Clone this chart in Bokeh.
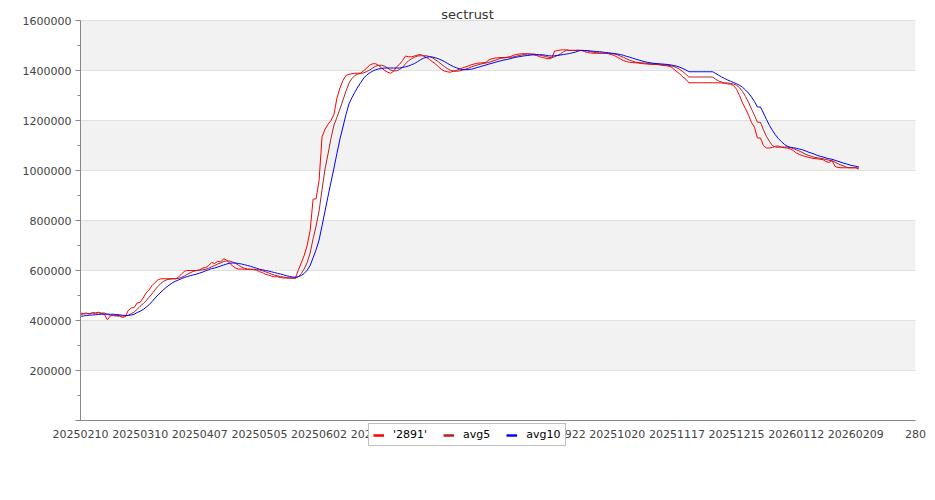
from bokeh.plotting import figure
from bokeh.models import (Range1d, FixedTicker, NumeralTickFormatter, Legend, LegendItem,
                          BoxAnnotation, Label)
from bokeh.embed import file_html
from bokeh.resources import INLINE

title_text = "sectrust"
series_names = ["'2891'", "avg5", "avg10"]
tick_labels = ["20250210", "20250310", "20250407", "20250505", "20250602", "20250630",
               "20250728", "20250825", "20250922", "20251020", "20251117", "20251215",
               "20260112", "20260209", "280"]

raw = [
    430000, 428000, 430000, 425000, 432000, 430000, 433000, 428000, 425000, 403000,
    418000, 422000, 420000, 420000, 412000, 415000, 440000, 450000, 452000, 470000,
    473000, 490000, 510000, 522000, 540000, 552000, 563000, 567000, 567000, 567000,
    567000, 567000, 567000, 575000, 588000, 598000, 600000, 600000, 600000, 600000,
    603000, 610000, 612000, 620000, 632000, 628000, 637000, 634000, 647000, 642000,
    630000, 618000, 610000, 605000, 606000, 605000, 604000, 605000, 603000, 602000,
    595000, 592000, 585000, 582000, 578000, 575000, 575000, 572000, 570000, 570000,
    569000, 569000, 569000, 600000, 630000, 660000, 700000, 760000, 885000, 887000,
    960000, 1135000, 1165000, 1185000, 1200000, 1225000, 1290000, 1330000, 1360000, 1380000,
    1385000, 1387000, 1389000, 1389000, 1390000, 1400000, 1410000, 1422000, 1427000, 1427000,
    1420000, 1410000, 1400000, 1393000, 1389000, 1397000, 1415000, 1425000, 1440000, 1458000,
    1455000, 1455000, 1458000, 1462000, 1464000, 1458000, 1452000, 1445000, 1435000, 1427000,
    1415000, 1405000, 1398000, 1395000, 1393000, 1397000, 1400000, 1405000, 1410000, 1414000,
    1418000, 1423000, 1426000, 1429000, 1430000, 1431000, 1433000, 1443000, 1447000, 1450000,
    1451000, 1452000, 1452000, 1453000, 1455000, 1460000, 1464000, 1466000, 1467000, 1467000,
    1467000, 1465000, 1463000, 1460000, 1455000, 1452000, 1449000, 1447000, 1450000, 1478000,
    1480000, 1482000, 1483000, 1482000, 1480000, 1480000, 1480000, 1481000, 1480000, 1476000,
    1472000, 1470000, 1469000, 1469000, 1469000, 1469000, 1469000, 1467000, 1464000, 1460000,
    1453000, 1447000, 1440000, 1436000, 1433000, 1432000, 1431000, 1430000, 1428000, 1427000,
    1426000, 1425000, 1424000, 1424000, 1423000, 1421000, 1420000, 1418000, 1415000, 1405000,
    1395000, 1386000, 1374000, 1365000, 1351000, 1351000, 1351000, 1351000, 1351000, 1351000,
    1351000, 1351000, 1351000, 1351000, 1351000, 1350000, 1349000, 1347000, 1345000, 1340000,
    1325000, 1300000, 1270000, 1247000, 1222000, 1192000, 1173000, 1130000, 1130000, 1100000,
    1090000, 1090000, 1092000, 1097000, 1098000, 1093000, 1091000, 1090000, 1086000, 1080000,
    1070000, 1064000, 1060000, 1056000, 1053000, 1050000, 1048000, 1047000, 1045000, 1043000,
    1036000, 1032000, 1040000, 1017000, 1012000, 1011000, 1011000, 1011000, 1011000, 1011000,
    1011000, 1005000,
]

avg5 = [
    424000, 426000, 427000, 428000, 429000, 429000, 430000, 430000, 430000, 424000,
    421000, 419000, 418000, 417000, 418000, 418000, 421000, 427000, 434000, 445000,
    457000, 467000, 479000, 493000, 507000, 523000, 537000, 549000, 558000, 563000,
    566000, 567000, 567000, 569000, 573000, 579000, 586000, 592000, 597000, 600000,
    601000, 603000, 605000, 609000, 615000, 620000, 626000, 630000, 636000, 638000,
    638000, 634000, 629000, 621000, 614000, 609000, 606000, 605000, 605000, 604000,
    602000, 599000, 595000, 591000, 586000, 582000, 579000, 576000, 574000, 572000,
    571000, 570000, 569000, 575000, 587000, 606000, 632000, 670000, 727000, 778000,
    838000, 925000, 1006000, 1066000, 1129000, 1182000, 1213000, 1246000, 1281000, 1317000,
    1349000, 1368000, 1380000, 1386000, 1388000, 1391000, 1396000, 1402000, 1410000, 1417000,
    1421000, 1421000, 1417000, 1410000, 1402000, 1398000, 1399000, 1404000, 1413000, 1427000,
    1439000, 1447000, 1453000, 1458000, 1459000, 1459000, 1459000, 1456000, 1451000, 1443000,
    1435000, 1425000, 1416000, 1408000, 1401000, 1398000, 1397000, 1398000, 1401000, 1405000,
    1409000, 1414000, 1418000, 1422000, 1425000, 1428000, 1430000, 1433000, 1437000, 1441000,
    1445000, 1449000, 1450000, 1452000, 1453000, 1454000, 1457000, 1460000, 1462000, 1465000,
    1466000, 1466000, 1466000, 1464000, 1462000, 1459000, 1456000, 1453000, 1451000, 1455000,
    1461000, 1467000, 1475000, 1481000, 1481000, 1481000, 1481000, 1481000, 1480000, 1479000,
    1478000, 1476000, 1473000, 1471000, 1470000, 1469000, 1469000, 1469000, 1468000, 1466000,
    1463000, 1458000, 1453000, 1447000, 1442000, 1438000, 1434000, 1432000, 1431000, 1430000,
    1428000, 1427000, 1426000, 1425000, 1424000, 1423000, 1422000, 1421000, 1419000, 1416000,
    1411000, 1404000, 1395000, 1385000, 1374000, 1374000, 1374000, 1374000, 1374000, 1374000,
    1374000, 1374000, 1374000, 1365000, 1358000, 1354000, 1350000, 1350000, 1348000, 1346000,
    1341000, 1331000, 1316000, 1296000, 1273000, 1246000, 1221000, 1193000, 1193000, 1163000,
    1137000, 1117000, 1100000, 1094000, 1093000, 1094000, 1094000, 1094000, 1092000, 1088000,
    1083000, 1078000, 1072000, 1066000, 1061000, 1057000, 1053000, 1051000, 1049000, 1047000,
    1044000, 1041000, 1039000, 1034000, 1027000, 1022000, 1018000, 1012000, 1011000, 1011000,
    1011000, 1010000,
]

avg10 = [
    417000, 418000, 420000, 421000, 422000, 423000, 424000, 425000, 425000, 426000,
    425000, 425000, 424000, 423000, 421000, 420000, 420000, 422000, 425000, 432000,
    437000, 444000, 453000, 463000, 476000, 490000, 502000, 514000, 525000, 535000,
    544000, 552000, 558000, 563000, 568000, 573000, 576000, 580000, 583000, 586000,
    590000, 594000, 599000, 603000, 608000, 610000, 614000, 618000, 622000, 626000,
    629000, 630000, 630000, 628000, 626000, 623000, 620000, 617000, 613000, 609000,
    605000, 603000, 600000, 598000, 595000, 592000, 589000, 586000, 583000, 579000,
    577000, 574000, 573000, 575000, 580000, 588000, 601000, 620000, 651000, 683000,
    722000, 779000, 838000, 897000, 954000, 1010000, 1069000, 1126000, 1174000, 1223000,
    1266000, 1291000, 1313000, 1334000, 1352000, 1370000, 1382000, 1391000, 1398000, 1403000,
    1406000, 1408000, 1410000, 1410000, 1410000, 1410000, 1410000, 1410000, 1412000, 1415000,
    1418000, 1423000, 1428000, 1435000, 1443000, 1449000, 1453000, 1455000, 1454000, 1451000,
    1447000, 1442000, 1436000, 1429000, 1422000, 1416000, 1411000, 1407000, 1404000, 1403000,
    1404000, 1405000, 1408000, 1412000, 1415000, 1419000, 1422000, 1426000, 1429000, 1433000,
    1436000, 1439000, 1442000, 1444000, 1447000, 1450000, 1453000, 1455000, 1457000, 1459000,
    1460000, 1462000, 1463000, 1463000, 1463000, 1463000, 1461000, 1459000, 1458000, 1459000,
    1460000, 1462000, 1464000, 1466000, 1468000, 1471000, 1474000, 1478000, 1481000, 1480000,
    1480000, 1478000, 1477000, 1476000, 1475000, 1474000, 1472000, 1471000, 1469000, 1468000,
    1466000, 1464000, 1461000, 1457000, 1454000, 1450000, 1446000, 1443000, 1439000, 1436000,
    1433000, 1431000, 1429000, 1428000, 1427000, 1426000, 1425000, 1424000, 1422000, 1420000,
    1417000, 1413000, 1408000, 1402000, 1395000, 1395000, 1395000, 1395000, 1395000, 1395000,
    1395000, 1395000, 1395000, 1388000, 1381000, 1374000, 1368000, 1362000, 1357000, 1352000,
    1347000, 1341000, 1333000, 1322000, 1310000, 1294000, 1276000, 1254000, 1254000, 1230000,
    1205000, 1181000, 1161000, 1143000, 1128000, 1116000, 1105000, 1097000, 1093000, 1091000,
    1089000, 1086000, 1083000, 1079000, 1074000, 1070000, 1066000, 1061000, 1057000, 1054000,
    1050000, 1047000, 1045000, 1041000, 1037000, 1033000, 1029000, 1026000, 1022000, 1019000,
    1017000, 1014000,
]

xs = list(range(len(raw)))

X_MAX = 280
Y_MAX = 1600000
Y_STEP = 200000

# Layout: the data area spans 835 x 400 px (x 80..915, y 20..420). The frame is
# padded around it so that the axes (drawn at fixed locations), the title and the
# legend (which overlaps the x tick labels) are all drawn inside the frame.
PX_X = 835 / X_MAX
PX_Y = 400 / Y_MAX
PAD_L, PAD_R, PAD_B, PAD_T = 60, 15, 30, 20

p = figure(width=930, height=490, output_backend="svg", toolbar_location=None,
           x_range=Range1d(-PAD_L / PX_X, X_MAX + PAD_R / PX_X),
           y_range=Range1d(-PAD_B / PX_Y, Y_MAX + PAD_T / PX_Y),
           min_border_left=20, min_border_right=0, min_border_top=0, min_border_bottom=40)
p.outline_line_color = None
p.background_fill_color = "white"

y_ticks = list(range(0, Y_MAX + 1, Y_STEP))

# grid lines from the grid; alternating bands drawn as boxes over the data area only
p.xgrid.visible = False
grid = p.ygrid[0]
grid.grid_line_color = "#e0e0e0"
grid.band_fill_color = None
try:
    grid.cross_bounds = (0, X_MAX)
except AttributeError:
    grid.visible = False
    for t in y_ticks[1:]:
        p.add_layout(BoxAnnotation(left=0, right=X_MAX, bottom=t, top=t, fill_alpha=0,
                                   line_color="#e0e0e0", line_width=1, level="underlay"))
for i in range(1, len(y_ticks) - 1, 2):
    p.add_layout(BoxAnnotation(left=0, right=X_MAX, bottom=y_ticks[i], top=y_ticks[i + 1],
                               fill_color="#f2f2f2", fill_alpha=1.0, line_color=None,
                               level="image"))

p.yaxis.ticker = FixedTicker(ticks=y_ticks,
                             minor_ticks=list(range(Y_STEP // 2, Y_MAX, Y_STEP)))
p.yaxis.formatter = NumeralTickFormatter(format="0")
p.yaxis.major_label_overrides = {0: ""}
p.yaxis.bounds = (0, Y_MAX)
p.yaxis.fixed_location = 0
p.xaxis.ticker = FixedTicker(ticks=[20 * i for i in range(len(tick_labels))])
p.xaxis.major_label_overrides = {20 * i: t for i, t in enumerate(tick_labels)}
p.xaxis.bounds = (0, X_MAX)
p.xaxis.fixed_location = 0

for ax in (p.xaxis[0], p.yaxis[0]):
    ax.axis_line_color = "#888888"
    ax.major_tick_line_color = "#888888"
    ax.minor_tick_line_color = "#888888"
    ax.major_label_text_font = "DejaVu Sans"
    ax.major_label_text_font_size = "11px"
    ax.major_label_text_color = "#444444"
    ax.major_tick_in = 0
    ax.minor_tick_in = 0
p.yaxis.major_tick_out = 5
p.yaxis.minor_tick_out = 3
p.yaxis.major_label_standoff = 4
p.xaxis.major_tick_out = 0
p.xaxis.minor_tick_out = 0
p.xaxis.major_label_standoff = 9

colors = ["#ff0000", "#b22222", "#0000ff"]
p.line(xs, raw, line_color=colors[0], line_width=1)
p.line(xs, avg5, line_color=colors[1], line_width=1)
p.line(xs, avg10, line_color=colors[2], line_width=1)

# legend-only renderers (a single undefined point, so nothing is drawn in the plot)
items = []
for name, c in zip(series_names, colors):
    r = p.line([float("nan")], [float("nan")], line_color=c, line_width=2.5)
    items.append(LegendItem(label=name, renderers=[r]))
legend = Legend(items=items, orientation="horizontal", location=(348, 4),
                label_text_font="DejaVu Sans", label_text_font_size="11px",
                label_text_color="#000000", glyph_width=11, glyph_height=12,
                label_height=12, label_standoff=9, spacing=16, padding=4, margin=0,
                border_line_color="#808080", border_line_width=1,
                background_fill_color="white", background_fill_alpha=1.0)
p.add_layout(legend, "center")

# title drawn inside the (padded) frame, centred on the page
p.add_layout(Label(x=447, y=436, x_units="screen", y_units="screen", text=title_text,
                   text_align="center", text_baseline="alphabetic", text_font="DejaVu Sans",
                   text_font_size="13px", text_color="#333333"))

open("out.html", "w").write(file_html(p, INLINE))
